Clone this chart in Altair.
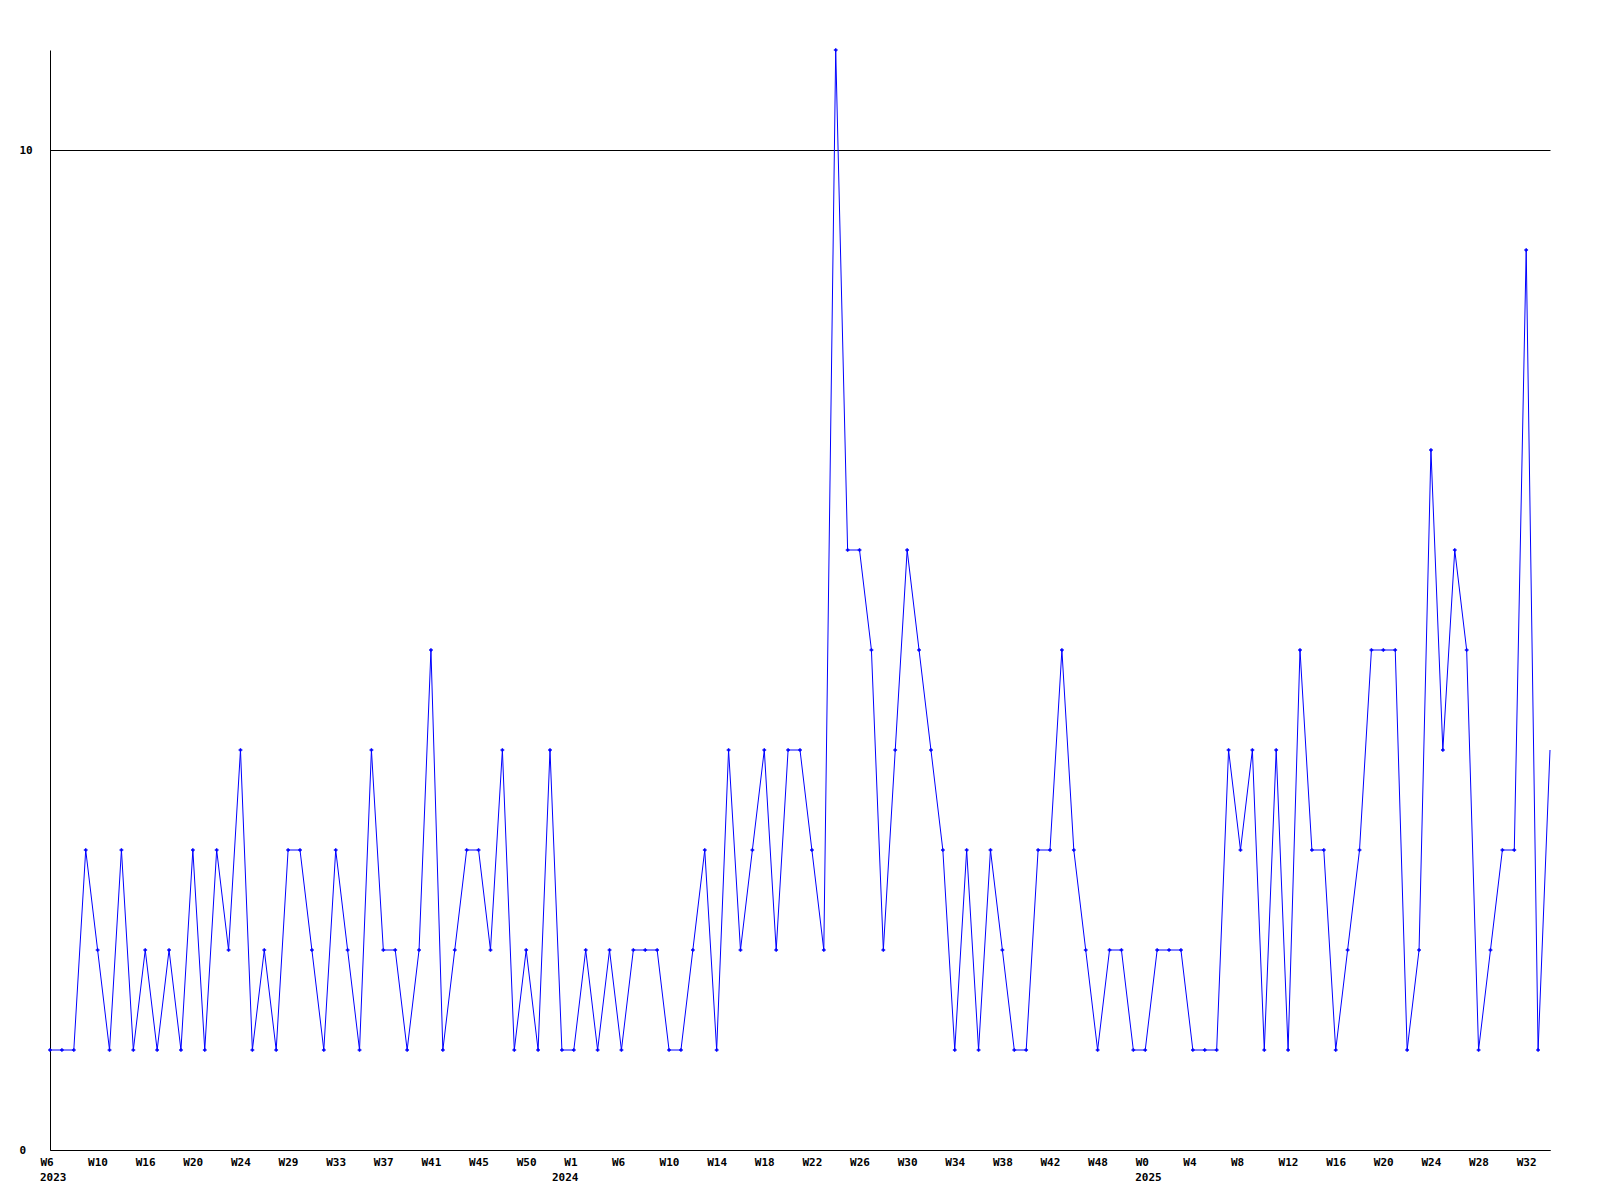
import altair as alt
import pandas as pd

# weekly counts
counts = [
    1, 1, 1, 3, 2, 1, 3, 1, 2, 1, 2, 1, 3, 1, 3, 2, 4, 1, 2, 1, 3, 3, 2, 1, 3, 2, 1, 4, 2, 2, 1, 2, 5, 1,
    2, 3, 3, 2, 4, 1, 2, 1, 4, 1, 1, 2, 1, 2, 1, 2, 2, 2, 1, 1, 2, 3, 1, 4, 2, 3, 4, 2, 4, 4, 3, 2,
    11, 6, 6, 5, 2, 4, 6, 5, 4, 3, 1, 3, 1, 3, 2, 1, 1, 3, 3, 5, 3, 2, 1, 2, 2, 1, 1, 2, 2, 2, 1, 1,
    1, 4, 3, 4, 1, 4, 1, 5, 3, 3, 1, 2, 3, 5, 5, 5, 1, 2, 7, 4, 6, 5, 1, 2, 3, 3, 9, 1, 4,
]

tick_index = list(range(0, 125, 4))
tick_labels = [
    "W6", "W10", "W16", "W20", "W24", "W29", "W33", "W37", "W41", "W45", "W50",
    "W1", "W6", "W10", "W14", "W18", "W22", "W26", "W30", "W34", "W38", "W42", "W48",
    "W0", "W4", "W8", "W12", "W16", "W20", "W24", "W28", "W32",
]
year_labels = ["2023", "2024", "2025"]
year_index = [0, 43, 92]

y_ticks = [0, 10]

df = pd.DataFrame({"idx": list(range(len(counts))), "count": counts})
years = pd.DataFrame({"idx": year_index, "label": year_labels})
last_idx = len(counts) - 1

label_expr = (
    "[" + ",".join(f"'{t}'" for t in tick_labels) + "]"
    + "[indexof([" + ",".join(str(i) for i in tick_index) + "], datum.value)]"
)

FONT = "DejaVu Sans Mono"
BLUE = "#0000ff"

x = alt.X(
    "idx:Q",
    scale=alt.Scale(domain=[0, last_idx], nice=False, zero=False),
    axis=alt.Axis(
        values=tick_index, labelExpr=label_expr, title=None, grid=False,
        ticks=False, tickSize=0, labelAlign="left", labelOffset=-10,
        labelPadding=6, labelFont=FONT, labelFontSize=11, labelFontWeight="bold",
        labelColor="black", domainColor="black", domainWidth=1,
        labelOverlap=False, labelFlush=False,
    ),
)
y = alt.Y(
    "count:Q",
    scale=alt.Scale(domain=[0, 11], nice=False),
    axis=alt.Axis(
        values=y_ticks, title=None, grid=True, gridColor="black", gridOpacity=1,
        gridWidth=1, ticks=False, tickSize=0, labelAlign="left", labelPadding=31,
        labelBaseline="middle", labelFont=FONT, labelFontSize=11,
        labelFontWeight="bold", labelColor="black", domainColor="black",
        domainWidth=1, labelOverlap=False, labelFlush=False,
    ),
)

line = alt.Chart(df).mark_line(color=BLUE, strokeWidth=1).encode(x=x, y=y)
points = (
    alt.Chart(df)
    .mark_point(shape="cross", filled=True, size=14, color=BLUE, opacity=1)
    .encode(x=x, y=y)
    .transform_filter(f"datum.idx < {last_idx}")
)
year_text = (
    alt.Chart(years)
    .mark_text(align="left", baseline="top", dx=-10, font=FONT, fontSize=11,
               fontWeight="bold", color="black")
    .encode(x=alt.X("idx:Q"), y=alt.value(1122), text="label:N")
)

chart = (
    alt.layer(line, points, year_text)
    .properties(
        width=1500, height=1100,
        background="white",
        autosize=alt.AutoSizeParams(type="none"),
        padding={"left": 42, "top": 42, "right": 42, "bottom": 42},
    )
    .configure_view(stroke="transparent", strokeWidth=0)
)

chart.save("out.html", embed_options={"renderer": "svg", "actions": False})
